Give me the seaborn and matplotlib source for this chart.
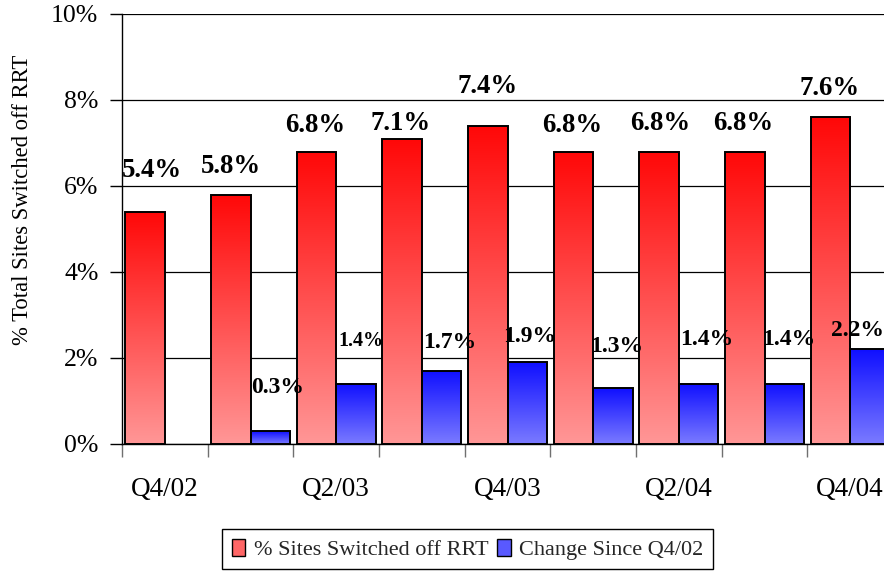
import numpy as np
import pandas as pd
import matplotlib
matplotlib.use("Agg")
import matplotlib.pyplot as plt
import seaborn as sns
from matplotlib.patches import Patch
from matplotlib.colors import LinearSegmentedColormap

# Quarterly figures (percent of total sites)
quarters = ["Q4/02", "Q1/03", "Q2/03", "Q3/03", "Q4/03",
            "Q1/04", "Q2/04", "Q3/04", "Q4/04"]
tick_labels = ["Q4/02", "", "Q2/03", "", "Q4/03", "", "Q2/04", "", "Q4/04"]
switched_off = [5.4, 5.8, 6.8, 7.1, 7.4, 6.8, 6.8, 6.8, 7.6]
change_since = [0.0, 0.3, 1.4, 1.7, 1.9, 1.3, 1.4, 1.4, 2.2]
series_names = ["% Sites Switched off RRT", "Change Since Q4/02"]

# Value-label placement: height of label baseline above bar (data units),
# horizontal nudge (points) and font size
red_label_rise = [0.81, 0.50, 0.46, 0.20, 0.76, 0.46, 0.50, 0.50, 0.52]
red_label_shift = [5, 0, -1, -1, 0, -1, 1, -1, -1]
blue_label_rise = [0.0, 0.89, 0.88, 0.53, 0.48, 0.84, 0.90, 0.90, 0.31]
blue_label_shift = [0, 5, 4, 6, 2, 3, 6, 3, -9]
blue_label_size = [17, 17, 14.5, 17, 17, 17, 17, 17, 17]

sns.set_theme(style="white")
plt.rcParams["font.family"] = ["Liberation Serif", "DejaVu Serif"]

df = pd.DataFrame({
    "quarter": quarters * 2,
    "series": [series_names[0]] * len(quarters) + [series_names[1]] * len(quarters),
    "value": switched_off + change_since,
})

fig = plt.figure(figsize=(8.84, 5.73), dpi=100)
ax = fig.add_axes([122 / 884, 1 - 444 / 573, 771 / 884, 430 / 573])

sns.barplot(data=df, x="quarter", y="value", hue="series",
            order=quarters, hue_order=series_names,
            palette=["#ff0000", "#0000ff"], saturation=1,
            width=0.92, edgecolor="black", linewidth=1.4,
            legend=False, ax=ax)

# Vertical gradient fills for each bar
red_cmap = LinearSegmentedColormap.from_list("redfade", [(1.0, 0.59, 0.59), (1.0, 0.03, 0.03)])
blue_cmap = LinearSegmentedColormap.from_list("bluefade", [(0.48, 0.48, 1.0), (0.06, 0.06, 1.0)])
grad = np.linspace(0, 1, 256).reshape(-1, 1)

for container, cmap in zip(ax.containers, [red_cmap, blue_cmap]):
    for bar in container:
        x0 = bar.get_x()
        w = bar.get_width()
        h = bar.get_height()
        if h <= 0:
            bar.set_visible(False)
            continue
        bar.set_facecolor("none")
        bar.set_zorder(3)
        img = ax.imshow(grad, cmap=cmap, extent=[x0, x0 + w, 0, h],
                        aspect="auto", origin="lower", zorder=2.5)
        img.set_clip_path(bar)

# Value labels
for bar, v, rise, dx in zip(ax.containers[0], switched_off, red_label_rise, red_label_shift):
    ax.annotate(f"{v:.1f}%", xy=(bar.get_x() + bar.get_width() / 2, v + rise),
                xytext=(dx, 0), textcoords="offset points",
                ha="center", va="baseline", fontsize=19.3, fontweight="bold",
                color="black", zorder=5, annotation_clip=False)

for bar, v, rise, dx, fs in zip(ax.containers[1], change_since, blue_label_rise,
                                blue_label_shift, blue_label_size):
    if v <= 0:
        continue
    ax.annotate(f"{v:.1f}%", xy=(bar.get_x() + bar.get_width() / 2, v + rise),
                xytext=(dx, 0), textcoords="offset points",
                ha="center", va="baseline", fontsize=fs, fontweight="bold",
                color="black", zorder=5, annotation_clip=False)

# Axes styling
ax.set_xlim(-0.5, len(quarters) - 0.5)
ax.set_ylim(0, 10)
ax.set_yticks(np.arange(0, 11, 2))
ax.set_yticklabels([f"{t}%" for t in range(0, 11, 2)])
ax.set_xticks(range(len(quarters)))
ax.set_xticklabels(tick_labels)
ax.set_xticks(np.arange(-0.5, len(quarters), 1), minor=True)

ax.tick_params(axis="x", which="major", length=0, pad=23.5, labelsize=19.5, colors="black")
ax.tick_params(axis="x", which="minor", length=9, width=1, color="#707070", direction="out", bottom=True)
ax.tick_params(axis="y", which="major", length=9, width=1, color="black", direction="out",
               pad=8, labelsize=18.5, left=True, labelcolor="black")

ax.yaxis.grid(True, color="black", linewidth=0.9)
ax.xaxis.grid(False)
ax.set_axisbelow(True)

for side in ["top", "right"]:
    ax.spines[side].set_visible(False)
for side in ["left", "bottom"]:
    ax.spines[side].set_visible(True)
    ax.spines[side].set_color("black")
    ax.spines[side].set_linewidth(1.0)

ax.set_xlabel("")
ax.set_ylabel("% Total Sites Switched off RRT", fontsize=16.3, color="black")
ax.yaxis.set_label_coords(-0.1154, 0.567)

handles = [
    Patch(facecolor=(1.0, 0.4, 0.4), edgecolor="black", linewidth=1.0),
    Patch(facecolor=(0.35, 0.35, 1.0), edgecolor="black", linewidth=1.0),
]
leg = fig.legend(handles, series_names, loc="center", bbox_to_anchor=(0.529, 0.0415),
                 ncol=2, frameon=True, fancybox=False, shadow=False, framealpha=1,
                 edgecolor="black", fontsize=16, handlelength=0.6, handleheight=0.8,
                 handletextpad=0.4, columnspacing=0.4, borderpad=0.42, borderaxespad=0)
leg.get_frame().set_linewidth(1.0)

fig.savefig("out.png", dpi=100)
